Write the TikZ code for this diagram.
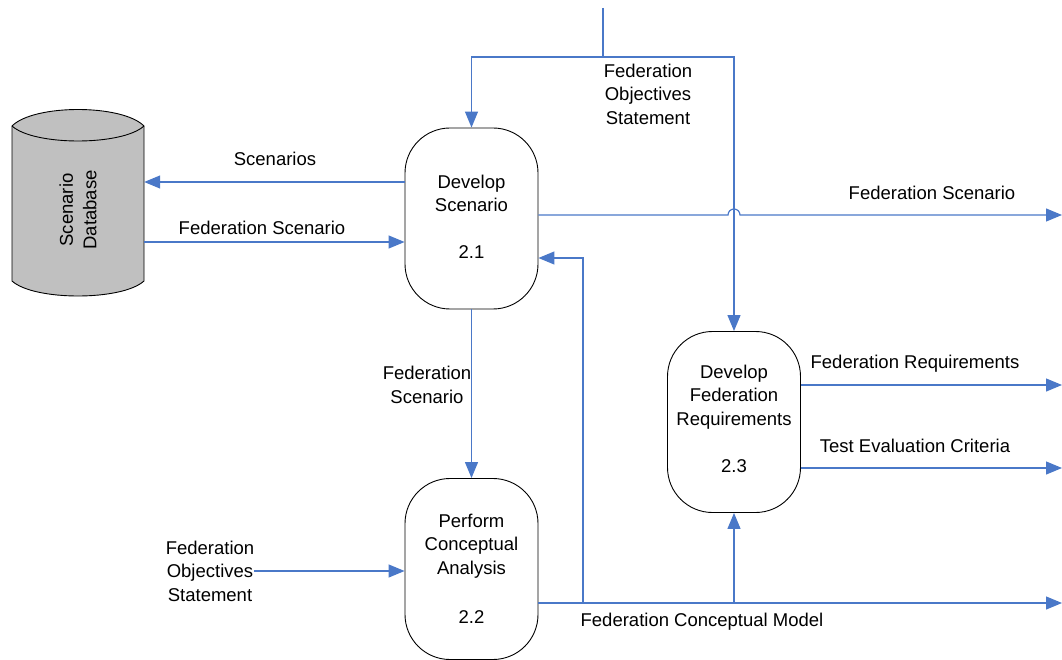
\documentclass[tikz,border=0pt]{standalone}
\usepackage{fontspec}
\setmainfont{Liberation Sans}
\usetikzlibrary{arrows.meta}
\definecolor{flow}{HTML}{4A78C8}
\definecolor{dbgray}{HTML}{C0C0C0}
\begin{document}
\begin{tikzpicture}[x=1pt,y=-1pt,
  every node/.style={font=\fontsize{18.5}{23.5}\selectfont, inner sep=0pt},
  proc/.style={draw=black, line width=0.9pt, rounded corners=45pt,
    minimum width=133pt, minimum height=181pt},
  flowline/.style={draw=flow, line width=1.2pt},
  flowarrow/.style={flowline, -{Triangle[length=16pt,width=13pt]}},
  lbl/.style={align=center}]

\useasboundingbox (0,0) rectangle (1062,660);

% process boxes
\node[proc] (p1) at (471.5,218.5) {};
\node[proc] (p2) at (471.5,569) {};
\node[proc] (p3) at (734,422) {};

\node[lbl] (p1t) at (471.5,193.5) {Develop\\Scenario};
\node (p1n) at (471.5,252) {2.1};
\node[lbl] (p2t) at (471.5,546) {Perform\\Conceptual\\Analysis};
\node (p2n) at (471.5,617) {2.2};
\node[lbl] (p3t) at (734,397) {Develop\\Federation\\Requirements};
\node (p3n) at (734,466) {2.3};

% scenario database (cylinder)
\node (db) [minimum width=132pt, minimum height=170pt] at (78,205) {};
\draw[fill=dbgray, draw=black, line width=0.9pt]
  (12,126) .. controls (34,104) and (122,104) .. (144,126)
  -- (144,281) .. controls (122,301) and (34,301) .. (12,281) -- cycle;
\draw[black, line width=0.9pt]
  (12,126) .. controls (34,146) and (122,146) .. (144,126);
\node[lbl, rotate=90] (dbt) at (78,210) {Scenario\\Database};

% federation objectives statement from above
\coordinate (objsrc) at (603,8);
\coordinate (objsplit) at (603,57);
\draw[flowline] (objsrc) -- (objsplit);
\draw[flowarrow] (objsplit) -| (p1.north);
\draw[flowarrow] (objsplit) -| (p3.north);
\node[lbl] (objtop) at (648,94) {Federation\\Objectives\\Statement};

% scenario database exchanges
\draw[flowarrow] ([yshift=36.5pt]p1.west) coordinate (s1) -- (s1 -| db.east);
\node (scn) at (275,159) {Scenarios};
\draw[flowarrow] ([yshift=-23.5pt]p1.west -| db.east) coordinate (s2) -- (s2 -| p1.west);
\node (fsdb) at (262,228) {Federation Scenario};

% federation scenario out, hopping over the objectives line
\coordinate (fsout) at (1062,215);
\draw[flowarrow] ([yshift=3.5pt]p1.east) coordinate (s3) -- (728,215)
  arc[start angle=180, end angle=0, radius=6pt] -- (fsout);
\node (fsr) at (932,193) {Federation Scenario};

% scenario down to conceptual analysis
\draw[flowarrow] (p1.south) -- (p2.north);
\node[lbl] (fsd) at (427,385) {Federation\\Scenario};

% objectives into conceptual analysis
\node[lbl] (objleft) at (210,571) {Federation\\Objectives\\Statement};
\draw[flowarrow] (objleft.east) -- (objleft.east -| p2.west);

% federation conceptual model
\coordinate (cmout) at (1062,603);
\coordinate (cmb1) at (583,603);
\coordinate (cmb2) at (734,603);
\draw[flowarrow] ([yshift=-34pt]p2.east) -- (cmout);
\draw[flowarrow] (cmb1) |- ([yshift=-39.5pt]p1.east);
\draw[flowarrow] (cmb2) -- (p3.south);
\node (cml) at (702,622) {Federation Conceptual Model};

% requirements outputs
\coordinate (frout) at (1062,385);
\coordinate (teout) at (1062,468);
\draw[flowarrow] ([yshift=37pt]p3.east) -- (frout);
\node (frl) at (915,364) {Federation Requirements};
\draw[flowarrow] ([yshift=-46pt]p3.east) -- (teout);
\node (tel) at (915,446) {Test Evaluation Criteria};
\end{tikzpicture}
\end{document}
